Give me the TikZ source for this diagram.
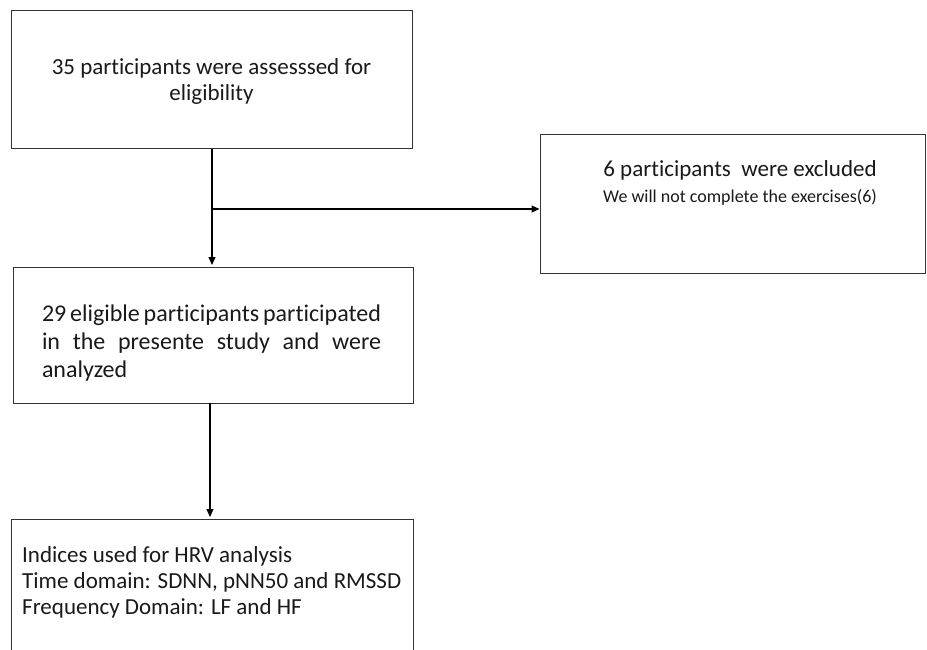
\documentclass[tikz,border=0pt]{standalone}
\usepackage{fontspec}
\setmainfont{Carlito}[Ligatures=NoCommon]
\usetikzlibrary{arrows.meta}
\begin{document}
\begin{tikzpicture}[x=1pt,y=-1pt,
  box/.style={draw=black!80, line width=1pt, rectangle, inner sep=0pt},
  arr/.style={draw=black, line width=1.1pt, -{Triangle[length=8pt,width=7pt]}},
  ln/.style={draw=black, line width=1.1pt},
  txt/.style={inner sep=0pt, font=\fontsize{23}{26}\selectfont, text=black!90}]
\useasboundingbox (0,0) rectangle (927,650);
\clip (0,0) rectangle (927,650);
\node[box, minimum width=401pt, minimum height=138pt] (b1) at (211.5,80) {};
\node[txt, align=center] (t1) at (211.5,81) {35 participants were assesssed for\\eligibility};
\node[box, minimum width=385pt, minimum height=138pt] (b4) at (732.5,204) {};
\node[txt, align=center, font=\fontsize{23}{25}\selectfont] (t4a) at (740,170) {6 participants\ \ were excluded};
\node[txt, align=center, font=\fontsize{18}{20}\selectfont] (t4b) at (740,197) {We will not complete the exercises(6)};
\node[box, minimum width=400pt, minimum height=136pt] (b2) at (213,335) {};
\node[txt, align=left, font=\fontsize{24}{28}\selectfont] (t2) at (211.5,343) {\makebox[339pt][s]{29 eligible participants participated}\\\makebox[339pt][s]{in the presente study and were}\\\makebox[339pt][l]{analyzed}};
\node[box, minimum width=402pt, minimum height=160pt] (b3) at (212,599) {};
\node[txt, align=left, anchor=north west, font=\fontsize{23}{26}\selectfont] (t3) at (22,546) {Indices used for HRV analysis\\Time domain: SDNN, pNN50 and RMSSD\\Frequency Domain: LF and HF};
\coordinate (j) at (212,209);
\draw[ln] (212,149) -- (j);
\draw[arr] (j) -- (212,265);
\draw[arr] (j) -- (j -| b4.west);
\draw[arr] (210,403) -- (210,517);
\end{tikzpicture}
\end{document}
